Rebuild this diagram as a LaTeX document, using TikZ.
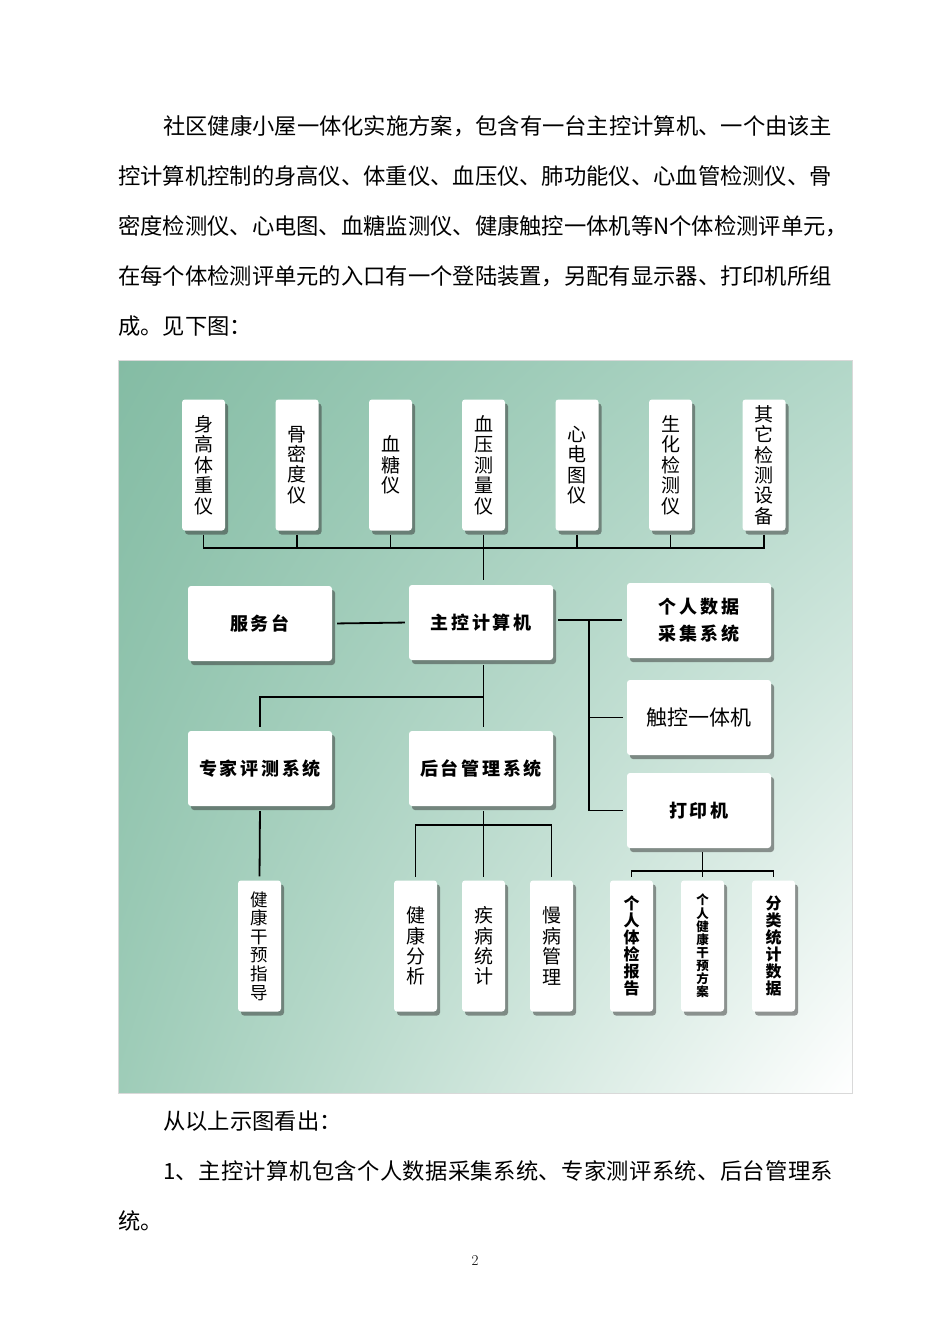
\documentclass[tikz,border=0pt]{standalone}
\usepackage{fontspec}
\newfontfamily\cjk{Noto Sans CJK SC}
\newfontfamily\cjkwide[LetterSpace=15]{Noto Sans CJK SC}
\usetikzlibrary{positioning,shadows,shadings}
\definecolor{tealA}{RGB}{132,188,164}
\definecolor{tealB}{RGB}{178,215,200}
\definecolor{tealC}{RGB}{158,204,184}
\XeTeXlinebreaklocale "zh"
\XeTeXlinebreakskip=0pt plus 1pt minus 0.5pt

\begin{document}
\begin{tikzpicture}[x=1pt,y=-1pt,
  wire/.style={line width=1.8pt},
  card/.style={fill=white,rounded corners=3pt,inner sep=0pt,align=center,
    drop shadow={shadow xshift=3pt,shadow yshift=-4pt,fill=black!80,opacity=0.5}},
  tallbox/.style={card,minimum width=43pt,minimum height=131pt,font=\cjk\fontsize{19}{20.4}\selectfont},
  widebox/.style={card,minimum width=144pt,minimum height=75pt,font=\cjkwide\bfseries\fontsize{18}{27}\selectfont},
  para/.style={anchor=base west,inner sep=0pt,font=\cjk\fontsize{22.3}{30}\selectfont}]
\fill[white] (0,0) rectangle (950,1344);
\useasboundingbox (0,0) rectangle (950,1344);

\node[para] (l1) at (163,134) {\hbox to 669pt{社区健康小屋一体化实施方案，包含有一台主控计算机、一个由该主}};
\node[para] (l2) at (118,184) {\hbox to 714pt{控计算机控制的身高仪、体重仪、血压仪、肺功能仪、心血管检测仪、骨}};
\node[para] (l3) at (118,234) {\hbox to 714pt{密度检测仪、心电图、血糖监测仪、健康触控一体机等N个体检测评单元，}};
\node[para] (l4) at (118,284) {\hbox to 714pt{在每个体检测评单元的入口有一个登陆装置，另配有显示器、打印机所组}};
\node[para] (l5) at (118,334) {成。见下图：};

\shade[upper left=tealA,upper right=tealB,lower left=tealC,lower right=white] (118,360) rectangle (852,1093);
\draw[black!15] (118,360) rectangle (852,1093);

\node[tallbox] (t1) at (203.5,465) {身\\高\\体\\重\\仪};
\node[tallbox] (t2) at (297,465) {骨\\密\\度\\仪};
\node[tallbox] (t3) at (390.5,465) {血\\糖\\仪};
\node[tallbox] (t4) at (483.5,465) {血\\压\\测\\量\\仪};
\node[tallbox] (t5) at (577,465) {心\\电\\图\\仪};
\node[tallbox] (t6) at (670.5,465) {生\\化\\检\\测\\仪};
\node[tallbox] (t7) at (764,465) {其\\它\\检\\测\\设\\备};
\coordinate (topbus) at (483.5,548);

\node[widebox] (s) at (260,623.5) {服务台};
\node[widebox] (m) at (481,622.5) {主控计算机};
\node[widebox] (p) at (699,620.5) {个人数据\\采集系统};
\node[widebox,font=\cjk\fontsize{21}{24}\selectfont] (c) at (699,717.5) {触控一体机};
\node[widebox] (pr) at (699,810.5) {打印机};
\node[widebox] (e) at (260,768.5) {专家评测系统};
\node[widebox] (b) at (481,768.5) {后台管理系统};
\coordinate (jr) at (589,620);
\coordinate (jm) at (483.5,697);
\coordinate (jb) at (483.5,825);
\coordinate (jp) at (702.5,871);

\node[tallbox,font=\cjk\fontsize{17.5}{18.6}\selectfont] (g) at (259.5,946) {健\\康\\干\\预\\指\\导};
\node[tallbox] (a1) at (415.5,946) {健\\康\\分\\析};
\node[tallbox] (a2) at (483.5,946) {疾\\病\\统\\计};
\node[tallbox] (a3) at (551.5,946) {慢\\病\\管\\理};
\node[tallbox,font=\cjk\bfseries\fontsize{16}{17}\selectfont] (r1) at (631.5,946) {个\\人\\体\\检\\报\\告};
\node[tallbox,font=\cjk\bfseries\fontsize{12.5}{13.1}\selectfont] (r2) at (702.5,946) {个\\人\\健\\康\\干\\预\\方\\案};
\node[tallbox,font=\cjk\bfseries\fontsize{16}{17}\selectfont] (r3) at (773.5,946) {分\\类\\统\\计\\数\\据};

\draw[wire,shorten <=4pt] (t1.south) |- (topbus);
\draw[wire,shorten <=4pt] (t2.south) |- (topbus);
\draw[wire,shorten <=4pt] (t3.south) |- (topbus);
\draw[wire,shorten <=4pt] (t5.south) |- (topbus);
\draw[wire,shorten <=4pt] (t6.south) |- (topbus);
\draw[wire,shorten <=4pt] (t7.south) |- (topbus);
\draw[wire,shorten <=4pt,shorten >=5pt] (t4.south) -- (t4.south |- m.north);
\draw[wire,shorten <=5pt,shorten >=4pt] (s.east) -- (m.west);
\draw[wire,shorten <=5pt,shorten >=5pt] (jr -| m.east) -- (jr -| p.west);
\draw[wire,shorten >=4pt] (jr) |- (c.west);
\draw[wire,shorten >=4pt] (jr) |- (pr.west);
\draw[wire,shorten <=5pt,shorten >=4pt] (m.south -| jm) -- (b.north -| jm);
\draw[wire,shorten >=4pt] (jm) -| (e.north);
\draw[wire,shorten <=5pt,shorten >=4pt] (e.south) -- (g.north);
\draw[wire,shorten <=5pt,shorten >=3pt] (b.south -| jb) -- (a2.north);
\draw[wire,shorten >=3pt] (jb) -| (a1.north);
\draw[wire,shorten >=3pt] (jb) -| (a3.north);
\draw[wire,shorten <=4pt,shorten >=3pt] (pr.south -| jp) -- (r2.north);
\draw[wire,shorten >=3pt] (jp) -| (r1.north);
\draw[wire,shorten >=3pt] (jp) -| (r3.north);

\node[para] (q1) at (163,1129) {从以上示图看出：};
\node[para] (q2) at (163,1179) {\addfontfeature{LetterSpace=1.7}1、主控计算机包含个人数据采集系统、专家测评系统、后台管理系};
\node[para] (q3) at (118,1229) {统。};
\node[font=\fontsize{15}{15}\selectfont,anchor=base,inner sep=0pt] (pg) at (475,1265) {2};
\end{tikzpicture}
\end{document}
